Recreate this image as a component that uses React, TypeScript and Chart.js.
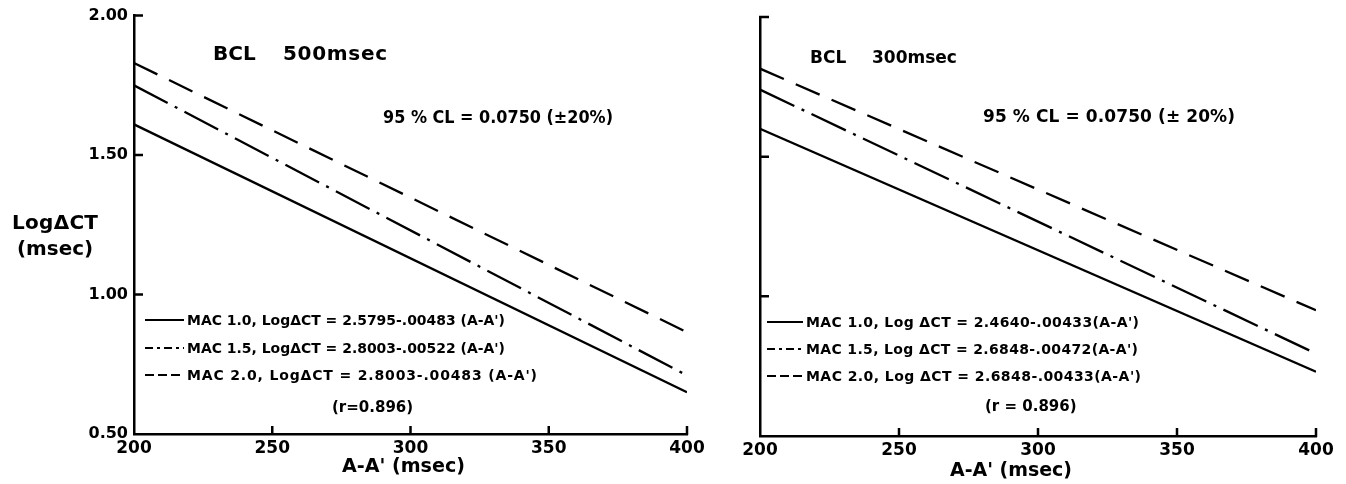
import React, { useEffect, useRef } from "react";
import { Chart, registerables } from "chart.js";

Chart.register(...registerables);

// ---------- data ----------
const xValues = [200, 400];
const xTicks = [200, 250, 300, 350, 400];
const xTickLabels = ["200", "250", "300", "350", "400"];
const yTicks = [0.5, 1.0, 1.5, 2.0];
const yTickLabels = ["0.50", "1.00", "1.50", "2.00"];

// BCL 500 msec panel
const bcl500Mac10 = [1.61, 0.65];
const bcl500Mac15 = [1.75, 0.71];
const bcl500Mac20 = [1.83, 0.865];
// BCL 300 msec panel
const bcl300Mac10 = [1.6, 0.73];
const bcl300Mac15 = [1.74, 0.795];
const bcl300Mac20 = [1.815, 0.95];

const legend500 = [
  "MAC 1.0, LogΔCT = 2.5795-.00483 (A-A')",
  "MAC 1.5, LogΔCT = 2.8003-.00522 (A-A')",
  "MAC 2.0, LogΔCT = 2.8003-.00483 (A-A')",
];
const legend300 = [
  "MAC 1.0, Log ΔCT = 2.4640-.00433(A-A')",
  "MAC 1.5, Log ΔCT = 2.6848-.00472(A-A')",
  "MAC 2.0, Log ΔCT = 2.6848-.00433(A-A')",
];

// ---------- styles ----------
const FONT = '"DejaVu Sans", "Liberation Sans", sans-serif';
const DASH_SOLID: number[] = [];
const DASH_DOTDASH = [38, 8, 3, 8];
const DASH_DASHED = [26, 13];
const SAMPLE_DASHES = [[], [8, 4, 3, 4], [9, 4]];

type Ann = { text: string; x: number; y: number; size: number; width?: number };

type Panel = {
  series: number[][];
  showYLabels: boolean;
  yAxisWidth: number;
  xAxisHeight: number;
  padTop: number;
  padRight: number;
  texts: Ann[];
  legendTexts: string[];
  legendX: number;
  legendW: number[];
  legendY: number[];
  sampleX: [number, number];
};

function drawText(ctx: CanvasRenderingContext2D, a: Ann) {
  ctx.font = `bold ${a.size}px ${FONT}`;
  ctx.textAlign = "left";
  ctx.textBaseline = "alphabetic";
  (ctx as any).letterSpacing = "0px";
  if (a.width) {
    const w = ctx.measureText(a.text).width;
    if (w < a.width) {
      (ctx as any).letterSpacing =
        (a.width - w) / Math.max(1, a.text.length - 1) + "px";
      ctx.fillText(a.text, a.x, a.y);
    } else {
      ctx.fillText(a.text, a.x, a.y, a.width);
    }
  } else {
    ctx.fillText(a.text, a.x, a.y);
  }
  (ctx as any).letterSpacing = "0px";
}

const decorPlugin = {
  id: "decor",
  afterDraw(chart: any, _args: any, opts: any) {
    const panel: Panel = opts.panel;
    if (!panel) return;
    const { ctx } = chart;
    const xs = chart.scales.x;
    const ys = chart.scales.y;
    const x0 = xs.getPixelForValue(200);
    const y0 = ys.getPixelForValue(0.5);
    ctx.save();
    ctx.strokeStyle = "#000";
    ctx.fillStyle = "#000";
    ctx.lineWidth = 2.5;
    ctx.setLineDash([]);
    ctx.beginPath();
    for (const t of yTicks) {
      if (t === 0.5) continue;
      const py = ys.getPixelForValue(t);
      ctx.moveTo(x0 - 1, py);
      ctx.lineTo(x0 + 9, py);
    }
    for (const t of xTicks) {
      if (t === 200) continue;
      const px = xs.getPixelForValue(t);
      ctx.moveTo(px, y0 + 1);
      ctx.lineTo(px, y0 - 8);
    }
    ctx.stroke();

    // legend samples
    ctx.lineWidth = 2;
    panel.legendY.forEach((ly, i) => {
      ctx.setLineDash(SAMPLE_DASHES[i]);
      ctx.beginPath();
      ctx.moveTo(panel.sampleX[0], ly - 5);
      ctx.lineTo(panel.sampleX[1], ly - 5);
      ctx.stroke();
    });
    ctx.setLineDash([]);
    panel.legendTexts.forEach((t, i) => {
      drawText(ctx, {
        text: t,
        x: panel.legendX,
        y: panel.legendY[i],
        size: 14,
        width: panel.legendW[i],
      });
    });
    for (const a of panel.texts) drawText(ctx, a);
    ctx.restore();
  },
};

const leftPanel: Panel = {
  series: [bcl500Mac10, bcl500Mac15, bcl500Mac20],
  showYLabels: true,
  yAxisWidth: 134,
  xAxisHeight: 50,
  padTop: 15,
  padRight: 1346 - 687,
  texts: [
    { text: "BCL", x: 213, y: 60, size: 20 },
    { text: "500msec", x: 283, y: 60, size: 20, width: 104 },
    { text: "95 % CL = 0.0750 (±20%)", x: 383, y: 123, size: 17, width: 230 },
    { text: "(r=0.896)", x: 332, y: 412, size: 15 },
    { text: "LogΔCT", x: 12, y: 229, size: 20, width: 86 },
    { text: "(msec)", x: 17, y: 255, size: 20, width: 76 },
    { text: "A-A' (msec)", x: 342, y: 472, size: 20, width: 123 },
  ],
  legendTexts: legend500,
  legendX: 187,
  legendW: [318, 318, 350],
  legendY: [325, 353, 380],
  sampleX: [145, 184],
};

const rightPanel: Panel = {
  series: [bcl300Mac10, bcl300Mac15, bcl300Mac20],
  showYLabels: false,
  yAxisWidth: 760,
  xAxisHeight: 48,
  padTop: 17,
  padRight: 1346 - 1316,
  texts: [
    { text: "BCL", x: 810, y: 63, size: 17 },
    { text: "300msec", x: 872, y: 63, size: 17 },
    { text: "95 % CL = 0.0750 (± 20%)", x: 983, y: 122, size: 17, width: 252 },
    { text: "(r = 0.896)", x: 985, y: 411, size: 15 },
    { text: "A-A' (msec)", x: 950, y: 476, size: 20, width: 122 },
  ],
  legendTexts: legend300,
  legendX: 806,
  legendW: [333, 332, 335],
  legendY: [327, 354, 381],
  sampleX: [767, 803],
};

function buildConfig(panel: Panel): any {
  const dashes = [DASH_SOLID, DASH_DOTDASH, DASH_DASHED];
  return {
    type: "line",
    data: {
      datasets: panel.series.map((vals, i) => ({
        data: vals.map((v, j) => ({ x: xValues[j], y: v })),
        borderColor: "#000",
        borderWidth: 2.3,
        borderDash: dashes[i],
        borderCapStyle: "butt",
        pointRadius: 0,
        fill: false,
        tension: 0,
      })),
    },
    options: {
      responsive: false,
      maintainAspectRatio: false,
      animation: false,
      events: [],
      layout: { padding: { top: panel.padTop, right: panel.padRight, bottom: 0, left: 0 } },
      plugins: {
        legend: { display: false },
        tooltip: { enabled: false },
        title: { display: false },
        decor: { panel },
      },
      scales: {
        x: {
          type: "linear",
          min: 200,
          max: 400,
          afterBuildTicks: (s: any) => {
            s.ticks = xTicks.map((v) => ({ value: v }));
          },
          afterFit: (s: any) => {
            s.height = panel.xAxisHeight;
          },
          grid: { display: false, drawTicks: false },
          border: { display: true, color: "#000", width: 2.5 },
          ticks: {
            color: "#000",
            padding: 4,
            maxRotation: 0,
            autoSkip: false,
            font: { family: FONT, size: 17, weight: "bold" },
            callback: (v: number) => xTickLabels[xTicks.indexOf(v)],
          },
        },
        y: {
          type: "linear",
          min: 0.5,
          max: 2.0,
          afterBuildTicks: (s: any) => {
            s.ticks = yTicks.map((v) => ({ value: v }));
          },
          afterFit: (s: any) => {
            s.width = panel.yAxisWidth;
          },
          grid: { display: false, drawTicks: false },
          border: { display: true, color: "#000", width: 2.5 },
          ticks: {
            display: panel.showYLabels,
            color: "#000",
            padding: 6,
            font: { family: FONT, size: 16, weight: "bold" },
            callback: (v: number) => yTickLabels[yTicks.indexOf(v)],
          },
        },
      },
    },
    plugins: [decorPlugin],
  };
}

export default function App() {
  const leftRef = useRef<HTMLCanvasElement>(null);
  const rightRef = useRef<HTMLCanvasElement>(null);

  useEffect(() => {
    const charts: Chart[] = [];
    if (leftRef.current) charts.push(new Chart(leftRef.current, buildConfig(leftPanel)));
    if (rightRef.current) charts.push(new Chart(rightRef.current, buildConfig(rightPanel)));
    return () => charts.forEach((c) => c.destroy());
  }, []);

  const cstyle: React.CSSProperties = {
    position: "absolute",
    left: 0,
    top: 0,
    width: 1346,
    height: 484,
  };

  return (
    <div style={{ position: "absolute", left: 0, top: 0, width: 1346, height: 484, background: "#fff" }}>
      <canvas ref={leftRef} width={1346} height={484} style={cstyle} />
      <canvas ref={rightRef} width={1346} height={484} style={cstyle} />
    </div>
  );
}
